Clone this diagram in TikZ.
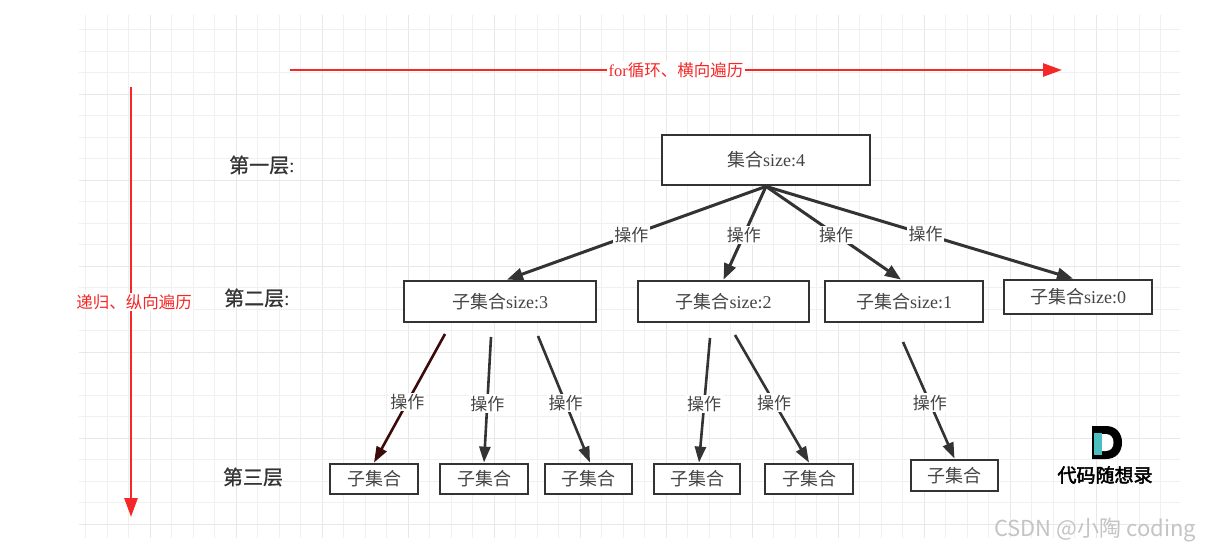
\documentclass[tikz,border=0pt]{standalone}
\usepackage{fontspec}
\setmainfont{Liberation Serif}
\newfontfamily\cjk{Noto Sans CJK SC}
\newfontfamily\cjkfb[FakeBold=2.5]{Noto Sans CJK SC}
\newfontfamily\cjkmb[FakeBold=1]{Noto Sans CJK SC}
\usetikzlibrary{arrows.meta}
\definecolor{redline}{HTML}{F52828}
\definecolor{boxline}{HTML}{333333}
\definecolor{boxtext}{HTML}{444444}
\definecolor{gridminor}{HTML}{F0F0F0}
\definecolor{gridmajor}{HTML}{E8E8E8}
\definecolor{darkred}{HTML}{3D0A0A}
\definecolor{logoteal}{HTML}{4BBFC0}
\definecolor{wm}{HTML}{C4C4C4}
\tikzset{
  redarrow/.style={draw=redline, line width=2.6pt, -{Triangle[length=19pt,width=13pt]}},
  redlbl/.style={fill=white, text=redline, inner sep=1.5pt, font=\fontsize{16.5}{16.5}\selectfont},
  setbox/.style={draw=boxline, line width=2.8pt, fill=white, text=boxtext, inner sep=0pt,
     font=\fontsize{18}{18}\selectfont},
  leafbox/.style={setbox, minimum height=30pt},
  edgeone/.style={draw=boxline, line width=3pt, -{Triangle[length=16pt,width=12pt]}},
  edgetwo/.style={draw=boxline, line width=2.6pt, -{Triangle[length=16pt,width=11pt]}},
  oplbl/.style={fill=white, text=boxtext, inner sep=1.5pt, font=\cjk\fontsize{17}{17}\selectfont},
  layerlbl/.style={text=boxline, inner sep=0pt, font=\fontsize{20}{20}\selectfont},
}
\begin{document}
\begin{tikzpicture}[x=1pt,y=-1pt]
\useasboundingbox (0,0) rectangle (1208,550);
\fill[white] (0,0) rectangle (1208,550);
% grid
\foreach \i in {0,...,50}{
  \pgfmathtruncatemacro{\m}{mod(\i+1,4)}
  \ifnum\m=0
    \draw[gridmajor, line width=1pt] ({85.5+21.5*\i},15) -- ({85.5+21.5*\i},538);
  \else
    \draw[gridminor, line width=1pt] ({85.5+21.5*\i},15) -- ({85.5+21.5*\i},538);
  \fi
}
\foreach \j in {0,...,23}{
  \pgfmathtruncatemacro{\m}{mod(\j+1,4)}
  \ifnum\m=0
    \draw[gridmajor, line width=1pt] (79,{29.5+21.5*\j}) -- (1180,{29.5+21.5*\j});
  \else
    \draw[gridminor, line width=1pt] (79,{29.5+21.5*\j}) -- (1180,{29.5+21.5*\j});
  \fi
}
% red traversal arrows
\coordinate (hs) at (290,70);
\coordinate (he) at (1062,70);
\draw[redarrow] (hs) -- node[redlbl]{for{\cjk 循环、横向遍历}} (he);
\begin{scope}
\clip (77,0) rectangle (1208,550);
\coordinate (vs) at (131,87);
\coordinate (ve) at (131,517);
\draw[redarrow] (vs) -- node[redlbl, pos=0.5, xshift=3pt]{\cjk 递归、纵向遍历} (ve);
\end{scope}
% layer labels
\node[layerlbl] (l1) at (262,165) {{\cjkmb 第一层}:};
\node[layerlbl] (l2) at (257,298) {{\cjkmb 第二层}:};
\node[layerlbl] (l3) at (253,477) {\cjkmb 第三层};
% boxes
\node[setbox, minimum width=208pt, minimum height=50pt] (root) at (766,160) {{\cjk 集合}size:4};
\node[setbox, minimum width=192pt, minimum height=41pt] (s3) at (500,301.5) {{\cjk 子集合}size:3};
\node[setbox, minimum width=171pt, minimum height=41pt] (s2) at (723.5,301.5) {{\cjk 子集合}size:2};
\node[setbox, minimum width=158pt, minimum height=41pt] (s1) at (904,301.5) {{\cjk 子集合}size:1};
\node[setbox, minimum width=148pt, minimum height=34pt] (s0) at (1078,297) {{\cjk 子集合}size:0};
\node[leafbox, minimum width=88pt] (c1) at (374,479) {\cjk 子集合};
\node[leafbox, minimum width=88pt] (c2) at (484,479) {\cjk 子集合};
\node[leafbox, minimum width=87pt] (c3) at (588.5,479) {\cjk 子集合};
\node[leafbox, minimum width=86pt] (c4) at (697,479) {\cjk 子集合};
\node[leafbox, minimum width=88pt] (c5) at (809,479) {\cjk 子集合};
\node[leafbox, minimum width=87pt, minimum height=31pt] (c6) at (954.5,475.5) {\cjk 子集合};
% first level edges
\draw[edgeone] (root.south) -- node[oplbl, pos=0.52]{操作} ([xshift=7pt]s3.north);
\draw[edgeone] (root.south) -- node[oplbl, pos=0.52]{操作} (s2.north);
\draw[edgeone] (root.south) -- node[oplbl, pos=0.52]{操作} ([xshift=-3pt]s1.north);
\draw[edgeone] (root.south) -- node[oplbl, pos=0.52]{操作} ([xshift=-5pt]s0.north);
% second level edges
\coordinate (a1) at (445,334);
\coordinate (a2) at (491,337);
\coordinate (a3) at (538,336);
\coordinate (a4) at (710,338);
\coordinate (a5) at (735,335);
\coordinate (a6) at (903,342);
\draw[edgetwo, draw=darkred, fill=darkred] (a1) -- node[oplbl, pos=0.53]{操作} (c1.north);
\draw[edgetwo] (a2) -- node[oplbl, pos=0.53]{操作} (c2.north);
\draw[edgetwo] (a3) -- node[oplbl, pos=0.53]{操作} ([xshift=1.5pt]c3.north);
\draw[edgetwo] (a4) -- node[oplbl, pos=0.53]{操作} ([xshift=2pt]c4.north);
\draw[edgetwo] (a5) -- node[oplbl, pos=0.53]{操作} (c5.north);
\draw[edgetwo] (a6) -- node[oplbl, pos=0.52]{操作} (c6.north);
% logo
\fill[black] (1092,426) -- (1106,426) .. controls (1116,426) and (1122,433) .. (1122,442.5)
  .. controls (1122,452) and (1116,459) .. (1106,459) -- (1092,459) -- cycle;
\fill[white] (1102,434) -- (1106,434) .. controls (1111,434) and (1113.5,438) .. (1113.5,442.5)
  .. controls (1113.5,447) and (1111,451) .. (1106,451) -- (1102,451) -- cycle;
\fill[logoteal] (1093.5,433) rectangle (1102,455);
\node[inner sep=0pt, font=\cjkfb\fontsize{19}{19}\selectfont] (logo) at (1105,475) {代码随想录};
% watermark
\node[inner sep=0pt, text=wm, font=\cjk\fontsize{22}{22}\selectfont] (wmark) at (1095,530) {CSDN @小陶 coding};
\end{tikzpicture}
\end{document}
